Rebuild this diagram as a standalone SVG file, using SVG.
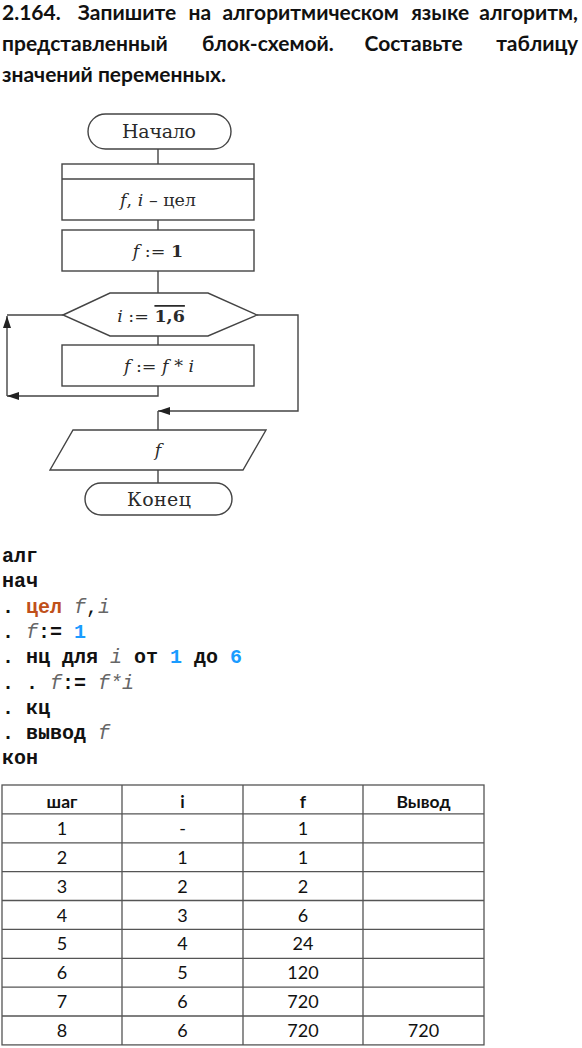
<svg xmlns="http://www.w3.org/2000/svg" width="582" height="1048" viewBox="0 0 582 1048">
<style>
.title{font-family:Lato,"Open Sans","Noto Sans",sans-serif;font-weight:bold;font-size:21px;fill:#111}
.fc{font-family:"DejaVu Serif","Liberation Serif",serif;font-size:17.5px;fill:#2a2a2a}
.term{font-size:19px}
.it{font-style:italic}
.bd{font-weight:bold}
.shape{fill:#fff;stroke:#444;stroke-width:1.4}
.conn{fill:none;stroke:#444;stroke-width:1.4}
.code{font-family:"Liberation Mono","Courier New",monospace;font-size:20px;fill:#111;font-weight:bold}
.var{font-style:italic;font-weight:normal;fill:#666}
.kw2{fill:#c0501a}
.num{fill:#1a9cff}
.grid{stroke:#555;stroke-width:1.3;fill:none}
.td{font-family:Lato,"Open Sans",sans-serif;font-size:18px;fill:#111;text-anchor:middle}
.th{font-family:Lato,"Open Sans",sans-serif;font-size:17.5px;font-weight:bold;fill:#111;text-anchor:middle}
</style>
<defs>
<marker id="arr" markerUnits="userSpaceOnUse" markerWidth="13" markerHeight="8" refX="12" refY="4" orient="auto">
<path d="M0,0 L12,4 L0,8 z" fill="#222"/>
</marker>
</defs>
<rect width="582" height="1048" fill="#fff"/>

<g id="title">
<text class="title" y="19.5"><tspan x="2">2.164.</tspan><tspan x="77.8">Запишите</tspan><tspan x="188.6">на</tspan><tspan x="222.4">алгоритмическом</tspan><tspan x="411.2">языке</tspan></text>
<text class="title" y="19.5" x="578" text-anchor="end">алгоритм,</text>
<text class="title" y="50.5"><tspan x="2">представленный</tspan><tspan x="202">блок-схемой.</tspan><tspan x="364.5">Составьте</tspan></text>
<text class="title" y="50.5" x="578" text-anchor="end">таблицу</text>
<text class="title" y="81.5" x="2">значений переменных.</text>
</g>

<g id="connectors">
<path class="conn" d="M158,149 V164"/>
<path class="conn" d="M158,220 V230"/>
<path class="conn" d="M158,271 V293"/>
<path class="conn" d="M158,336 V345"/>
<path class="conn" d="M158,386 V396 H7" marker-end="url(#arr)"/>
<path class="conn" d="M7,396 V316" marker-end="url(#arr)"/>
<path class="conn" d="M7,315 H63"/>
<path class="conn" d="M257,315 H298 V411 H158" marker-end="url(#arr)"/>
<path class="conn" d="M158,411 V430"/>
<path class="conn" d="M158,470 V483"/>
</g>

<g id="start">
<rect class="shape" x="88" y="114" width="143" height="35" rx="17.5"/>
<text class="fc term" x="159" y="138" text-anchor="middle" textLength="74">Начало</text>
</g>

<g id="declare">
<rect class="shape" x="62" y="164" width="192" height="56"/>
<line class="conn" x1="62" y1="179" x2="254" y2="179"/>
<text class="fc" x="158" y="206" text-anchor="middle"><tspan class="it">f</tspan>, <tspan class="it">i</tspan> – цел</text>
</g>

<g id="init">
<rect class="shape" x="62" y="230" width="192" height="41"/>
<text class="fc" x="158" y="256.5" text-anchor="middle"><tspan class="it">f</tspan> := <tspan class="bd">1</tspan></text>
</g>

<g id="loop">
<polygon class="shape" points="63,315 110,293 208,293 257,315 208,336 110,336"/>
<text class="fc" x="151" y="322" text-anchor="middle"><tspan class="it">i</tspan> := <tspan class="bd" text-decoration="overline">1,6</tspan></text>
</g>

<g id="body">
<rect class="shape" x="62" y="345" width="192" height="41"/>
<text class="fc" x="159" y="371.5" text-anchor="middle"><tspan class="it">f</tspan> := <tspan class="it">f</tspan> * <tspan class="it">i</tspan></text>
</g>

<g id="output">
<polygon class="shape" points="73,430 266,430 243,470 50,470"/>
<text class="fc it" x="158" y="456" text-anchor="middle">f</text>
</g>

<g id="end">
<rect class="shape" x="85" y="483" width="147" height="32" rx="16"/>
<text class="fc term" x="159" y="506" text-anchor="middle" textLength="64">Конец</text>
</g>

<g id="code">
<text class="code" x="2" y="562" xml:space="preserve">алг</text>
<text class="code" x="2" y="587.3" xml:space="preserve">нач</text>
<text class="code" x="2" y="612.6" xml:space="preserve">. <tspan class="kw2">цел</tspan> <tspan class="var">f</tspan><tspan font-weight="normal">,</tspan><tspan class="var">i</tspan></text>
<text class="code" x="2" y="637.9" xml:space="preserve">. <tspan class="var">f</tspan>:= <tspan class="num">1</tspan></text>
<text class="code" x="2" y="663.2" xml:space="preserve">. нц для <tspan class="var">i</tspan> от <tspan class="num">1</tspan> до <tspan class="num">6</tspan></text>
<text class="code" x="2" y="688.5" xml:space="preserve">. . <tspan class="var">f</tspan>:= <tspan class="var">f*i</tspan></text>
<text class="code" x="2" y="713.8" xml:space="preserve">. кц</text>
<text class="code" x="2" y="739.1" xml:space="preserve">. вывод <tspan class="var">f</tspan></text>
<text class="code" x="2" y="764.4" xml:space="preserve">кон</text>
</g>

<g id="table">
<rect class="grid" x="2" y="785" width="482" height="259.9"/>
<path class="grid" d="M122,785 V1044.9 M243,785 V1044.9 M363,785 V1044.9"/>
<path class="grid" d="M2,813.9 H484 M2,842.8 H484 M2,871.6 H484 M2,900.5 H484 M2,929.4 H484 M2,958.3 H484 M2,987.1 H484 M2,1016 H484"/>
<text class="th" x="62" y="807.5">шаг</text>
<text class="th" x="182.5" y="807.5">i</text>
<text class="th" x="303" y="807.5">f</text>
<text class="th" x="423.5" y="807.5">Вывод</text>

<text class="td" x="62" y="834.9">1</text><text class="td" x="182.5" y="834.9">-</text><text class="td" x="303" y="834.9">1</text>
<text class="td" x="62" y="863.8">2</text><text class="td" x="182.5" y="863.8">1</text><text class="td" x="303" y="863.8">1</text>
<text class="td" x="62" y="892.6">3</text><text class="td" x="182.5" y="892.6">2</text><text class="td" x="303" y="892.6">2</text>
<text class="td" x="62" y="921.5">4</text><text class="td" x="182.5" y="921.5">3</text><text class="td" x="303" y="921.5">6</text>
<text class="td" x="62" y="950.4">5</text><text class="td" x="182.5" y="950.4">4</text><text class="td" x="303" y="950.4">24</text>
<text class="td" x="62" y="979.3">6</text><text class="td" x="182.5" y="979.3">5</text><text class="td" x="303" y="979.3">120</text>
<text class="td" x="62" y="1008.1">7</text><text class="td" x="182.5" y="1008.1">6</text><text class="td" x="303" y="1008.1">720</text>
<text class="td" x="62" y="1037">8</text><text class="td" x="182.5" y="1037">6</text><text class="td" x="303" y="1037">720</text><text class="td" x="423.5" y="1037">720</text>
</g>
</svg>
